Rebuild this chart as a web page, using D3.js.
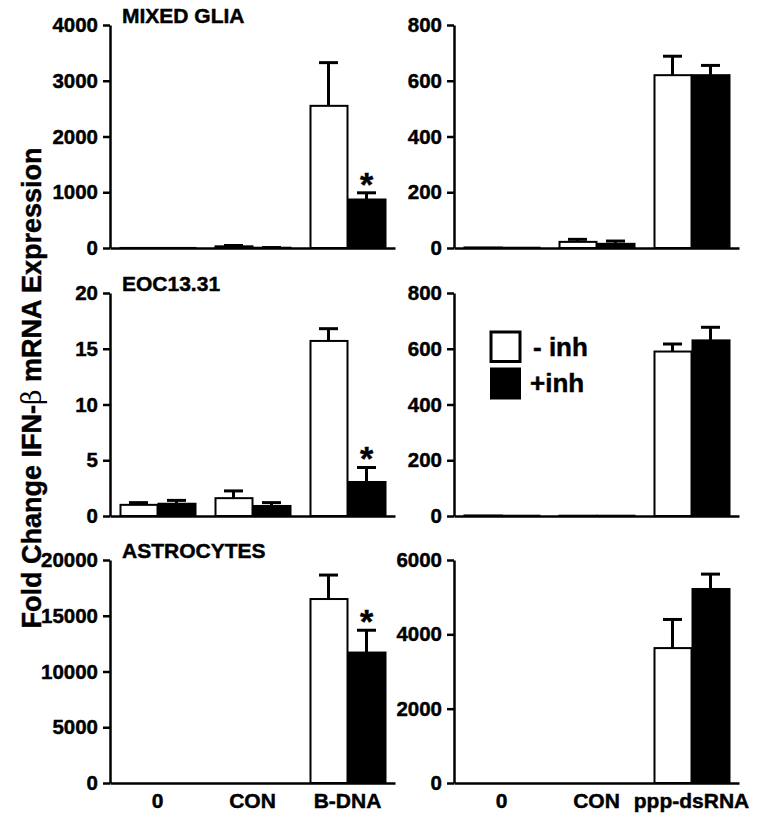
<!DOCTYPE html>
<html>
<head>
<meta charset="utf-8">
<script src="https://cdn.jsdelivr.net/npm/d3@7"></script>
<style>
  html, body { margin: 0; padding: 0; background: #fff; }
  svg text { font-family: "Liberation Sans", Arial, Helvetica, sans-serif; font-weight: bold; fill: #000; stroke: #000; stroke-width: 0.45px; }
</style>
</head>
<body>
<svg id="chart" width="764" height="821"></svg>
<script>
// ---------- data ----------
const dnaCategories = ["0", "CON", "B-DNA"];
const rnaCategories = ["0", "CON", "ppp-dsRNA"];
const seriesNames = ["- inh", "+inh"];
const panelTitles = ["MIXED GLIA", "EOC13.31", "ASTROCYTES"];

// Row 1: mixed glia
const gliaDnaMinus = [1, 30, 2550];
const gliaDnaMinusErr = [0, 15, 775];
const gliaDnaPlus = [1, 5, 870];
const gliaDnaPlusErr = [0, 3, 120];
const gliaRnaMinus = [2, 22, 620];
const gliaRnaMinusErr = [0, 9, 68];
const gliaRnaPlus = [1, 15, 620];
const gliaRnaPlusErr = [0, 10, 35];

// Row 2: EOC13.31
const eocDnaMinus = [1.0, 1.6, 15.7];
const eocDnaMinusErr = [0.2, 0.65, 1.1];
const eocDnaPlus = [1.1, 0.9, 3.05];
const eocDnaPlusErr = [0.3, 0.3, 1.3];
const eocRnaMinus = [2, 1, 590];
const eocRnaMinusErr = [0, 0, 27];
const eocRnaPlus = [1, 1, 630];
const eocRnaPlusErr = [0, 0, 47];

// Row 3: astrocytes
const astroDnaMinus = [0, 0, 16500];
const astroDnaMinusErr = [0, 0, 2150];
const astroDnaPlus = [0, 0, 11700];
const astroDnaPlusErr = [0, 0, 2000];
const astroRnaMinus = [0, 0, 3630];
const astroRnaMinusErr = [0, 0, 770];
const astroRnaPlus = [0, 0, 5220];
const astroRnaPlusErr = [0, 0, 400];

// significance (asterisk over "+ inh" bar of a category)
const gliaDnaSig = [false, false, true];
const eocDnaSig = [false, false, true];
const astroDnaSig = [false, false, true];

// y-axis tick values
const gliaDnaTicks = [0, 1000, 2000, 3000, 4000];
const gliaRnaTicks = [0, 200, 400, 600, 800];
const eocDnaTicks = [0, 5, 10, 15, 20];
const eocRnaTicks = [0, 200, 400, 600, 800];
const astroDnaTicks = [0, 5000, 10000, 15000, 20000];
const astroRnaTicks = [0, 2000, 4000, 6000];

const yLabel = "Fold Change IFN-";
const yLabelGreek = "β";
const yLabelEnd = " mRNA Expression";

// ---------- layout ----------
const svg = d3.select("#chart");
const colX = [110, 454];
const rowTop = [25, 293, 560];
const plotH = 223;
const plotW = 286;

function buildRows(minus, minusErr, plus, plusErr, sig) {
  return minus.map((v, i) => ({
    idx: i,
    values: [
      { s: 0, v: v, e: minusErr[i] },
      { s: 1, v: plus[i], e: plusErr[i], sig: sig ? sig[i] : false }
    ]
  }));
}

const panels = [
  { r: 0, c: 0, cats: dnaCategories, ticks: gliaDnaTicks, title: panelTitles[0],
    rows: buildRows(gliaDnaMinus, gliaDnaMinusErr, gliaDnaPlus, gliaDnaPlusErr, gliaDnaSig) },
  { r: 0, c: 1, cats: rnaCategories, ticks: gliaRnaTicks,
    rows: buildRows(gliaRnaMinus, gliaRnaMinusErr, gliaRnaPlus, gliaRnaPlusErr) },
  { r: 1, c: 0, cats: dnaCategories, ticks: eocDnaTicks, title: panelTitles[1],
    rows: buildRows(eocDnaMinus, eocDnaMinusErr, eocDnaPlus, eocDnaPlusErr, eocDnaSig) },
  { r: 1, c: 1, cats: rnaCategories, ticks: eocRnaTicks, legend: true,
    rows: buildRows(eocRnaMinus, eocRnaMinusErr, eocRnaPlus, eocRnaPlusErr) },
  { r: 2, c: 0, cats: dnaCategories, ticks: astroDnaTicks, title: panelTitles[2], xLabels: true,
    rows: buildRows(astroDnaMinus, astroDnaMinusErr, astroDnaPlus, astroDnaPlusErr, astroDnaSig) },
  { r: 2, c: 1, cats: rnaCategories, ticks: astroRnaTicks, xLabels: true,
    rows: buildRows(astroRnaMinus, astroRnaMinusErr, astroRnaPlus, astroRnaPlusErr) }
];

const fills = ["#ffffff", "#000000"];

panels.forEach(p => {
  const g = svg.append("g").attr("transform", `translate(${colX[p.c]},${rowTop[p.r]})`);
  const y = d3.scaleLinear().domain([0, d3.max(p.ticks)]).range([plotH, 0]);
  const x0 = d3.scaleBand().domain(d3.range(p.cats.length)).range([0, plotW - 1])
    .paddingInner(0.2).paddingOuter(0.1);
  const x1 = d3.scaleBand().domain([0, 1]).range([0, x0.bandwidth()]);

  // bars
  const grp = g.selectAll("g.grp").data(p.rows).join("g")
    .attr("transform", d => `translate(${x0(d.idx)},0)`);

  const items = grp.selectAll("g.bar").data(d => d.values).join("g");

  // error bars (upper only)
  items.filter(d => d.e > 0).each(function(d) {
    const cx = x1(d.s) + x1.bandwidth() / 2;
    const sel = d3.select(this);
    sel.append("line").attr("x1", cx).attr("x2", cx)
      .attr("y1", y(d.v)).attr("y2", y(d.v + d.e))
      .attr("stroke", "#000").attr("stroke-width", 3);
    sel.append("line").attr("x1", cx - 9.5).attr("x2", cx + 9.5)
      .attr("y1", y(d.v + d.e)).attr("y2", y(d.v + d.e))
      .attr("stroke", "#000").attr("stroke-width", 3);
  });

  items.filter(d => d.v > 0).append("rect")
    .attr("x", d => x1(d.s) + 1)
    .attr("width", x1.bandwidth() - 1)
    .attr("y", d => y(d.v))
    .attr("height", d => y(0) - y(d.v))
    .attr("fill", d => fills[d.s])
    .attr("stroke", "#000")
    .attr("stroke-width", 2);

  // asterisks
  items.filter(d => d.sig).append("text")
    .attr("x", d => x1(d.s) + x1.bandwidth() / 2)
    .attr("y", d => y(d.v + d.e) + 3)
    .attr("text-anchor", "middle")
    .style("font-size", "34px")
    .text("*");

  // y axis
  const ya = g.append("g").call(
    d3.axisLeft(y).tickValues(p.ticks).tickSize(7).tickSizeOuter(0).tickPadding(5)
      .tickFormat(d3.format("d")));
  ya.select(".domain").attr("stroke-width", 2.5);
  ya.selectAll(".tick line").attr("stroke-width", 2.5);
  ya.selectAll(".tick text").style("font-size", "20.5px").attr("font-family", null);

  // x axis
  const xa = g.append("g").attr("transform", `translate(0,${plotH})`).call(
    d3.axisBottom(d3.scaleBand().domain(p.cats).range(x0.range())
      .paddingInner(0.2).paddingOuter(0.1))
      .tickSize(0).tickSizeOuter(0).tickPadding(10));
  xa.select(".domain").attr("stroke-width", 2.5);
  xa.selectAll(".tick text").style("font-size", "21px").attr("font-family", null);
  if (!p.xLabels) xa.selectAll(".tick text").remove();

  if (p.title) {
    g.append("text").attr("x", 12).attr("y", -2)
      .style("font-size", "21px").text(p.title);
  }

  if (p.legend) {
    const lg = g.append("g").attr("transform", "translate(36,38)");
    seriesNames.forEach((name, i) => {
      lg.append("rect").attr("x", i === 0 ? 1 : 0).attr("y", i === 0 ? 1 : 36.5)
        .attr("width", i === 0 ? 29 : 31).attr("height", i === 0 ? 29.5 : 32)
        .attr("fill", fills[i]).attr("stroke", i === 0 ? "#000" : "none").attr("stroke-width", 3);
      lg.append("text").attr("x", i === 0 ? 43 : 40).attr("y", i === 0 ? 25 : 61)
        .style("font-size", "26px").text(name);
    });
  }
});

// shared y label
const yl = svg.append("text")
  .attr("transform", "translate(41,388) rotate(-90)")
  .attr("text-anchor", "middle")
  .style("font-size", "27px");
yl.append("tspan").text(yLabel);
yl.append("tspan").style("font-weight", "normal").style("stroke-width", "0px").style("font-family", "'DejaVu Serif', serif").text(yLabelGreek);
yl.append("tspan").text(yLabelEnd);
</script>
</body>
</html>
